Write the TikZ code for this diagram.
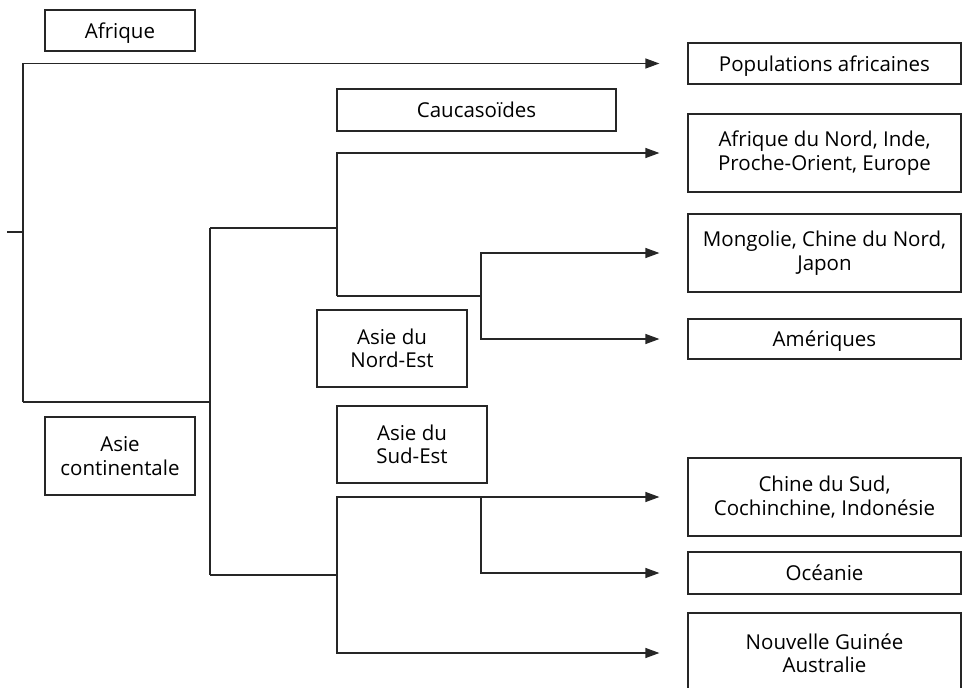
\documentclass[tikz,border=0pt]{standalone}
\usepackage{fontspec}
\setmainfont{Open Sans}
\usetikzlibrary{arrows.meta}
\begin{document}
\begin{tikzpicture}[x=1pt,y=-1pt,
  box/.style={draw=black!85, line width=1.2pt, inner sep=0pt, align=center,
    font=\fontsize{20.5}{23.5}\selectfont, text=black},
  single/.style={text height=15.5pt, text depth=0pt},
  lab/.style={box, minimum width=150pt},
  leaf/.style={box, minimum width=273pt},
  ln/.style={line width=1.2pt, draw=black!85},
  arr/.style={ln, -{Triangle[length=14pt,width=10pt]}}]
\useasboundingbox (0,0) rectangle (962,688);
% label boxes
\node[lab, single, minimum height=41pt] (afr) at (120,30.5) {Afrique};
\node[box, single, minimum width=279pt, minimum height=42pt] (cau) at (476.5,110) {Caucaso\"ides};
\node[lab, minimum height=77pt] (ane) at (392,348.5) {Asie du\\Nord-Est};
\node[lab, minimum height=77pt] (ase) at (412,444.5) {Asie du\\Sud-Est};
\node[lab, minimum height=78pt] (aco) at (120,456) {Asie\\continentale};
% leaf boxes
\node[leaf, single, minimum height=41pt] (pop) at (824.5,63.5) {Populations africaines};
\node[leaf, minimum height=78pt] (nord) at (824.5,153) {Afrique du Nord, Inde,\\Proche-Orient, Europe};
\node[leaf, minimum height=78pt] (mong) at (824.5,253) {Mongolie, Chine du Nord,\\Japon};
\node[leaf, single, minimum height=40pt] (amer) at (824.5,339) {Am\'eriques};
\node[leaf, minimum height=78pt] (chin) at (824.5,497) {Chine du Sud,\\Cochinchine, Indon\'esie};
\node[leaf, single, minimum height=42pt] (ocea) at (824.5,573) {Oc\'eanie};
\node[leaf, minimum height=80pt] (nouv) at (824.5,653) {Nouvelle Guin\'ee\\Australie};
% arrow tips
\coordinate (tpop) at ([xshift=-28pt]pop.west);
\coordinate (tnord) at ([xshift=-28pt]nord.west);
\coordinate (tmong) at ([xshift=-28pt]mong.west);
\coordinate (tamer) at ([xshift=-28pt]amer.west);
\coordinate (tchin) at ([xshift=-28pt]chin.west);
\coordinate (tocea) at ([xshift=-28pt]ocea.west);
\coordinate (tnouv) at ([xshift=-28pt]nouv.west);
% junctions
\coordinate (r0) at (7,232);
\coordinate (r) at (23,232);
\coordinate (a) at (23,402);
\coordinate (b) at (210,402);
\coordinate (bt) at (210,228);
\coordinate (bb) at (210,575);
\coordinate (c) at (337,228);
\coordinate (cb) at (337,296);
\coordinate (d) at (481,296);
\coordinate (e) at (337,575);
\coordinate (f) at (481,497);
% connectors
\draw[ln] (r0) -- (r);
\draw[arr] (a) |- (tpop);
\draw[ln] (a) -- (b);
\draw[ln] (bt) -- (bb);
\draw[ln] (bt) -- (c);
\draw[arr] (cb) |- (tnord);
\draw[ln] (cb) -- (d);
\draw[arr] (d) |- (tmong);
\draw[arr] (d) |- (tamer);
\draw[ln] (bb) -- (e);
\draw[arr] (e) |- (tchin);
\draw[arr] (e) |- (tnouv);
\draw[arr] (f) |- (tocea);
\end{tikzpicture}
\end{document}
